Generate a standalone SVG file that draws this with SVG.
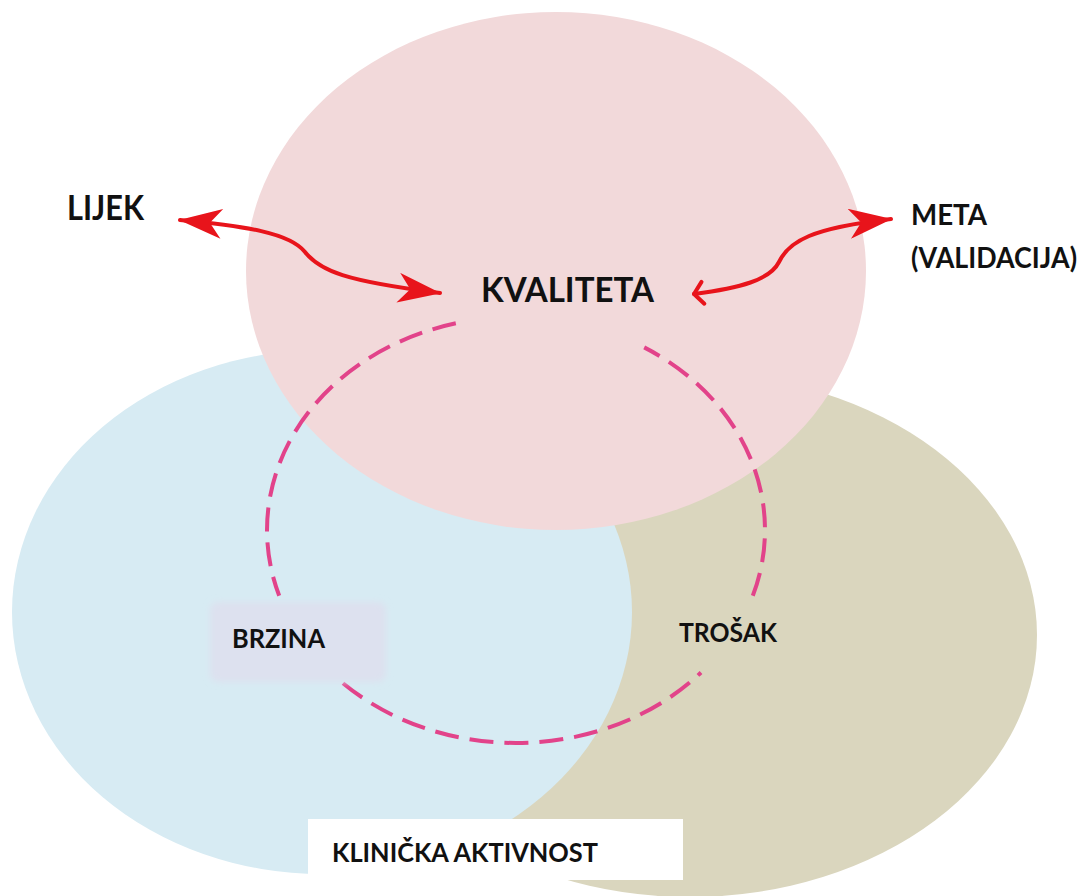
<svg xmlns="http://www.w3.org/2000/svg" width="1085" height="896" viewBox="0 0 1085 896">
  <defs>
    <style>
      .lbl { font-family: Lato, "Liberation Sans", "DejaVu Sans", sans-serif; font-weight: 700; fill: #111111; }
      .big { font-size: 34px; }
      .mid { font-size: 28px; }
      .sml { font-size: 27px; }
      .arrow { fill: none; stroke: #e8141b; stroke-width: 4; stroke-linecap: round; }
      .dash { fill: none; stroke: #e2438a; stroke-width: 4; stroke-dasharray: 24 11; }
    </style>
    <marker id="headBig" markerUnits="userSpaceOnUse" viewBox="0 0 44 30" refX="43" refY="15" markerWidth="44" markerHeight="30" orient="auto-start-reverse">
      <path d="M44,15 L1,0 L13,15 L1,30 Z" fill="#e8141b"/>
    </marker>
    <marker id="headSmall" markerUnits="userSpaceOnUse" viewBox="-3 -3 18 30" refX="11" refY="12" markerWidth="18" markerHeight="30" orient="auto-start-reverse">
      <path d="M2,1 L11,12 L2,23" fill="none" stroke="#e8141b" stroke-width="4" stroke-linecap="round" stroke-linejoin="round"/>
    </marker>
    <filter id="soft" x="-10%" y="-20%" width="120%" height="140%">
      <feGaussianBlur stdDeviation="3"/>
    </filter>
  </defs>

  <rect x="0" y="0" width="1085" height="896" fill="#ffffff"/>

  <g id="node-trosak-circle">
    <ellipse cx="690" cy="635" rx="347" ry="262" fill="#dad6be"/>
  </g>
  <g id="node-brzina-circle">
    <ellipse cx="322" cy="612" rx="310" ry="262" fill="#d7ebf3"/>
  </g>
  <g id="node-kvaliteta-circle">
    <ellipse cx="556" cy="271" rx="310" ry="259" fill="#f2d9da"/>
  </g>

  <g id="cycle">
    <path class="dash" d="M455.8,323.3 A249,213 0 0 0 279.2,595.8"/>
    <path class="dash" d="M343,683.2 A249,213 0 0 0 701,672.5"/>
    <path class="dash" d="M752.8,595.8 A249,213 0 0 0 644.2,347.4"/>
  </g>

  <g id="node-brzina">
    <rect x="210" y="602" width="176" height="80" rx="8" fill="#dde1ef" filter="url(#soft)"/>
    <text class="lbl sml" x="232" y="648" textLength="93" lengthAdjust="spacingAndGlyphs">BRZINA</text>
  </g>

  <g id="node-trosak">
    <text class="lbl sml" x="679" y="642" textLength="98" lengthAdjust="spacingAndGlyphs">TROŠAK</text>
  </g>

  <g id="node-kvaliteta">
    <text class="lbl big" x="481" y="302" textLength="173" lengthAdjust="spacingAndGlyphs">KVALITETA</text>
  </g>

  <g id="node-lijek">
    <text class="lbl big" x="67" y="220" textLength="77" lengthAdjust="spacingAndGlyphs">LIJEK</text>
  </g>

  <g id="node-meta">
    <text class="lbl mid" x="911" y="225" textLength="76" lengthAdjust="spacingAndGlyphs">META</text>
    <text class="lbl mid" x="911" y="268" textLength="166" lengthAdjust="spacingAndGlyphs">(VALIDACIJA)</text>
  </g>

  <g id="node-klinicka">
    <rect x="308" y="819" width="375" height="61" fill="#ffffff"/>
    <text class="lbl sml" x="332" y="862" textLength="266" lengthAdjust="spacingAndGlyphs">KLINIČKA AKTIVNOST</text>
  </g>

  <g id="connectors">
    <path class="arrow" d="M180,220 C245,226 290,233 305,252 C320,271 345,281 440,293" marker-start="url(#headBig)" marker-end="url(#headBig)"/>
    <path class="arrow" d="M694,294 C740,288 770,280 779,262 C789,241 812,228 891,219" marker-start="url(#headSmall)" marker-end="url(#headBig)"/>
  </g>
</svg>
